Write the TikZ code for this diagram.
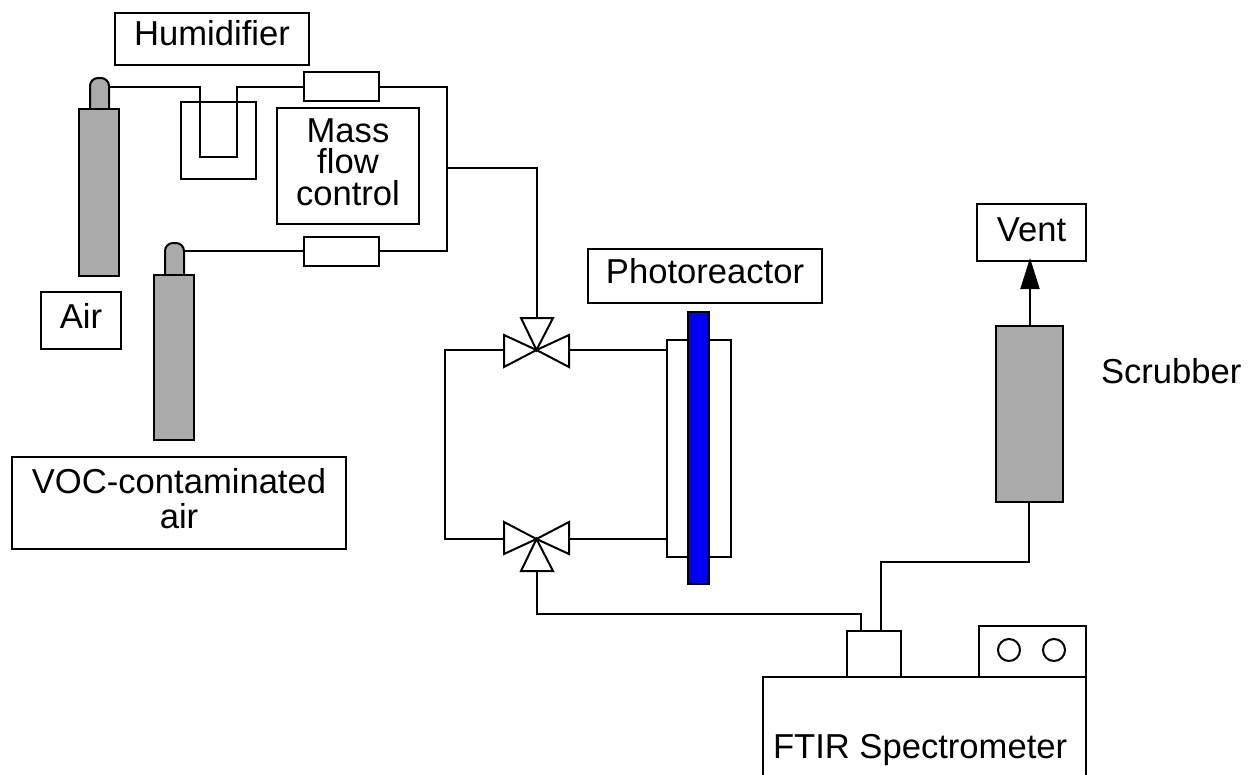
\documentclass[tikz,border=0pt]{standalone}
\usepackage{fontspec}
\setmainfont{Liberation Sans}
\usetikzlibrary{arrows.meta}
\definecolor{cylgray}{RGB}{170,170,170}
\definecolor{lampblue}{RGB}{0,0,245}
\tikzset{
  labelbox/.style={draw=black,line width=2pt,fill=white,inner sep=0pt,outer sep=0pt,align=center,font=\fontsize{34.6}{35}\selectfont},
  textbase/.style={text height=#1,text depth=0pt},
  plainbox/.style={draw=black,line width=2pt,fill=white,inner sep=0pt,outer sep=0pt},
  graybox/.style={draw=black,line width=2pt,fill=cylgray,inner sep=0pt,outer sep=0pt},
  pipe/.style={draw=black,line width=2pt,line join=miter},
  valve/.style={draw=black,line width=2pt,fill=white,line join=miter},
  plaintext/.style={inner sep=0pt,outer sep=0pt,font=\fontsize{34.6}{35}\selectfont}
}
\begin{document}
\begin{tikzpicture}[x=1pt,y=-1pt]
\useasboundingbox (0,0) rectangle (1248,774);
\clip (0,0) rectangle (1248,774);
% labelled boxes
\node[labelbox,textbase=13pt,minimum width=194pt,minimum height=52.5pt] (hum) at (212,38.75) {Humidifier};
\node[labelbox,textbase=15pt,minimum width=80pt,minimum height=57pt] (air) at (81,320.5) {Air};
\node[labelbox,textbase=50pt,minimum width=334pt,minimum height=92pt] (voc) at (179,503) {VOC-contaminated\\air};
\node[labelbox,textbase=78pt,minimum width=142pt,minimum height=116pt] (mfc) at (348,166) {Mass\\[-3.5pt]flow\\[-3.5pt]control};
\node[labelbox,textbase=14pt,minimum width=234pt,minimum height=54pt] (photo) at (705,276) {Photoreactor};
\node[labelbox,textbase=17pt,minimum width=109pt,minimum height=57pt] (vent) at (1031.5,232.5) {Vent};
\node[plaintext,anchor=base west] (scrub) at (1101,383) {Scrubber};
% humidifier vessel
\node[plainbox,minimum width=75pt,minimum height=77pt] (vessel) at (218.5,140.5) {};
% flow controllers
\node[plainbox,minimum width=75pt,minimum height=29pt] (fc1) at (341.5,86.5) {};
\node[plainbox,minimum width=75pt,minimum height=29pt] (fc2) at (341.5,251.5) {};
% cylinders
\draw[graybox,rounded corners=8pt] (90,125) -- (90,78) -- (109,78) -- (109,125) -- cycle;
\node[graybox,minimum width=40pt,minimum height=167pt] (cyl1) at (99,192.5) {};
\draw[graybox,rounded corners=8pt] (165,290) -- (165,243) -- (184,243) -- (184,290) -- cycle;
\node[graybox,minimum width=40pt,minimum height=165pt] (cyl2) at (174,357.5) {};
\coordinate (neck1) at (109,87);
\coordinate (neck2) at (184,251);
% reactor
\node[plainbox,minimum width=64pt,minimum height=217pt] (reactor) at (699,448.5) {};
\node[draw=black,line width=2pt,fill=lampblue,inner sep=0pt,outer sep=0pt,minimum width=21pt,minimum height=272pt] (lamp) at (698.5,448) {};
% scrubber
\node[graybox,minimum width=67pt,minimum height=176pt] (scrubber) at (1029.5,414) {};
% FTIR
\node[plainbox,minimum width=54pt,minimum height=46pt] (inlet) at (874,654) {};
\node[plainbox,minimum width=107pt,minimum height=51pt] (panel) at (1032.5,651.5) {};
\draw[plainbox] (763,790) -- (763,677) -- (1086,677) -- (1086,790);
\node[plaintext,anchor=base west] (ftir) at (773,758) {FTIR Spectrometer};
\node[draw=black,line width=2pt,circle,minimum size=22pt,inner sep=0pt] (c1) at (1009,650) {};
\node[draw=black,line width=2pt,circle,minimum size=22pt,inner sep=0pt] (c2) at (1054,650) {};
% valves
\coordinate (v1) at (536.5,350);
\coordinate (v2) at (536.5,539);
\draw[valve] (v1) -- (521,318) -- (553,318) -- cycle;
\draw[valve] (v1) -- (504,335) -- (504,367) -- cycle;
\draw[valve] (v1) -- (569,335) -- (569,367) -- cycle;
\draw[valve] (v2) -- (504,522) -- (504,554) -- cycle;
\draw[valve] (v2) -- (569,522) -- (569,554) -- cycle;
\draw[valve] (v2) -- (521,571) -- (553,571) -- cycle;
\coordinate (v1t) at (537,318);
\coordinate (v1l) at (504,350);
\coordinate (v1r) at (569,350);
\coordinate (v2b) at (537,571);
\coordinate (v2l) at (504,539);
\coordinate (v2r) at (569,539);
\coordinate (j1) at (447,168);
\coordinate (scrubout) at (1029,502);
% pipes
\draw[pipe] (neck1) -- (200,87) -- (200,157) -- (237,157) -- (237,87) -- (fc1.west |- neck1);
\draw[pipe] (neck2) -- (fc2.west |- neck2);
\draw[pipe] (fc1.east |- neck1) -- (447,87) -- (447,251) -- (fc2.east |- neck2);
\draw[pipe] (j1) -- (537,168) -- (v1t);
\draw[pipe] (v1l) -- (445,350) -- (445,539) -- (v2l);
\draw[pipe] (v1r) -- (reactor.west |- v1r);
\draw[pipe] (v2r) -- (reactor.west |- v2r);
\draw[pipe] (v2b) -- (537,614) -- (861,614) -- (861,631);
\draw[pipe] (881,631) -- (881,562) -- (1029,562) -- (scrubout);
\draw[pipe,shorten >=-3pt,-{Triangle[length=31pt,width=19pt]}] (1030,326) -- (1030,261);
\end{tikzpicture}
\end{document}
